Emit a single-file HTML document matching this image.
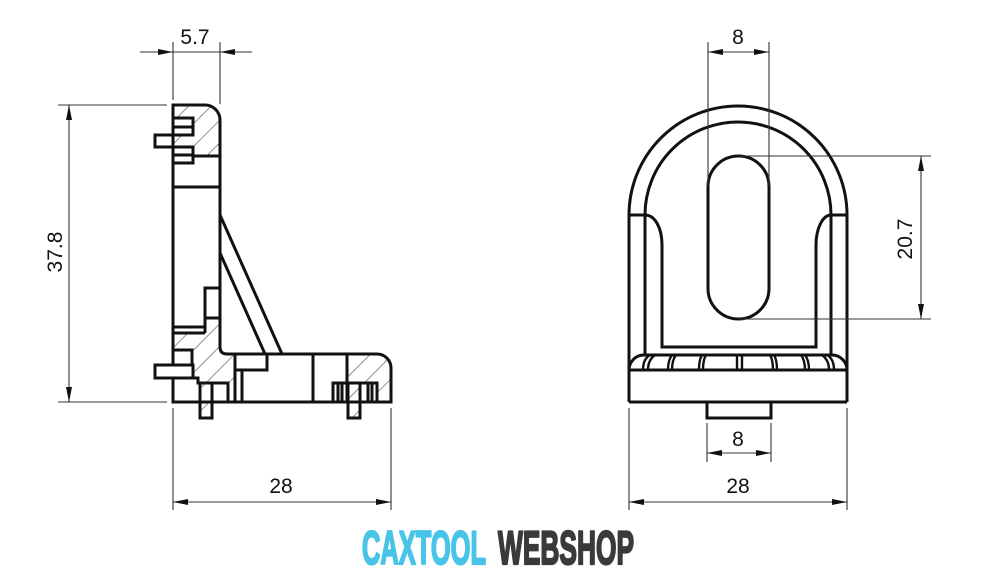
<!DOCTYPE html>
<html><head><meta charset="utf-8"><style>
html,body{margin:0;padding:0;background:#fff;}
svg{display:block;}
</style></head><body>
<svg width="1000" height="575" viewBox="0 0 1000 575" xmlns="http://www.w3.org/2000/svg">
<defs>
<pattern id="h" patternUnits="userSpaceOnUse" width="16" height="16" patternTransform="rotate(45)">
<line x1="0" y1="0" x2="0" y2="16" stroke="#555" stroke-width="1.3"/>
</pattern>
</defs>
<rect width="1000" height="575" fill="#fff"/>

<!-- ============ LEFT VIEW ============ -->
<g fill="url(#h)" stroke="none">
<path d="M173,105 H205 A15,15 0 0 1 220,120 V156 H173 Z"/>
<path d="M205,318 H220 V347 Q220,354 227,354 H235 V402 H228 V383 H212 V418 H200 V383 H198 V378 H193 V365 H192 V350 H173 V333 H205 Z"/>
<path d="M347,354 H377 A14,14 0 0 1 391,368 V402 H377 V383 H360 V418 H348 V383 H347 Z"/>
</g>
<g fill="none" stroke="#111" stroke-width="3" stroke-linejoin="miter">
<path d="M173,105 H205 A15,15 0 0 1 220,120 V347 Q220,354 227,354 H377 A14,14 0 0 1 391,368 V402 H173 Z"/>
<line x1="173" y1="156" x2="220" y2="156"/>
<line x1="173" y1="187" x2="220" y2="187"/>
<rect x="173" y="118" width="20" height="17" fill="#fff"/>
<line x1="173" y1="127" x2="193" y2="127"/>
<rect x="155" y="135" width="18" height="12" fill="#fff"/>
<rect x="173" y="147" width="20" height="16" fill="#fff"/>
<line x1="173" y1="155" x2="193" y2="155"/>
<line x1="220" y1="215" x2="282" y2="354"/>
<line x1="220" y1="253" x2="265" y2="354"/>
<polyline points="220,288 205,288 205,333"/>
<line x1="205" y1="318" x2="220" y2="318"/>
<line x1="173" y1="327" x2="205" y2="327"/>
<line x1="173" y1="333" x2="205" y2="333"/>
<polyline points="173,350 192,350 192,365"/>
<rect x="155" y="365" width="38" height="13" fill="#fff"/>
<polyline points="193,378 198,378 198,383 200,383"/>
<rect x="200" y="383" width="12" height="35"/>
<rect x="212" y="383" width="16" height="19"/>
<line x1="235" y1="354" x2="235" y2="402"/>
<line x1="242" y1="370" x2="242" y2="402"/>
<rect x="235" y="354" width="32" height="16"/>
<line x1="313" y1="354" x2="313" y2="402"/>
<line x1="347" y1="354" x2="347" y2="402"/>
<polyline points="333,402 333,383 347,383"/>
<line x1="338" y1="383" x2="338" y2="402"/>
<line x1="342" y1="383" x2="342" y2="402"/>
<rect x="348" y="383" width="12" height="35"/>
<polyline points="360,383 377,383 377,402"/>
<line x1="368" y1="383" x2="368" y2="402"/>
<line x1="372" y1="383" x2="372" y2="402"/>
</g>

<g stroke="#333" stroke-width="1.1" fill="none">
<line x1="173" y1="42" x2="173" y2="100"/>
<line x1="220" y1="42" x2="220" y2="104"/>
<line x1="140" y1="52" x2="252" y2="52"/>
<line x1="58" y1="105" x2="167" y2="105"/>
<line x1="58" y1="402" x2="167" y2="402"/>
<line x1="69" y1="105" x2="69" y2="402"/>
<line x1="173" y1="408" x2="173" y2="510"/>
<line x1="391" y1="408" x2="391" y2="510"/>
<line x1="173" y1="502" x2="391" y2="502"/>
</g>
<g fill="#111">
<polygon points="173,52 158,49 158,55"/>
<polygon points="220,52 235,49 235,55"/>
<polygon points="69,105 66,120 72,120"/>
<polygon points="69,402 66,387 72,387"/>
<polygon points="173,502 188,499 188,505"/>
<polygon points="391,502 376,499 376,505"/>
</g>
<g font-family="Liberation Sans, Arial, sans-serif" font-size="21" fill="#111" text-anchor="middle">
<text x="195" y="44">5.7</text>
<text x="0" y="0" transform="translate(62,252) rotate(-90)">37.8</text>
<text x="281" y="493">28</text>
</g>

<!-- ============ RIGHT VIEW ============ -->
<g fill="none" stroke="#111" stroke-width="3">
<path d="M629,402 V215 A109,109 0 0 1 847,215 V402"/>
<path d="M645,355 V215 A93,93 0 0 1 831,215 V355"/>
<line x1="629" y1="215" x2="645" y2="215"/>
<line x1="831" y1="215" x2="847" y2="215"/>
<path d="M645,215 C655,215 662,228 662,245 V347 H816 V245 C816,228 823,215 831,215"/>
<path d="M708,186.5 A30.5,30.5 0 0 1 769,186.5 V288.5 A30.5,30.5 0 0 1 708,288.5 Z"/>
<path d="M629,370 A15,15 0 0 1 644,355 H832 A15,15 0 0 1 847,370"/>
<line x1="629" y1="370" x2="847" y2="370"/>
<line x1="629" y1="402" x2="847" y2="402"/>
<rect x="707" y="402" width="64" height="16"/>
</g>
<g fill="none" stroke="#111" stroke-width="2.4">
<path d="M643,370 Q643,359 650,355 M648,370 Q648,360 655,355"/>
<path d="M668,370 Q668,360 672,355 M672,370 Q672,360 676,355"/>
<path d="M699,370 Q699,360 702,355 M703,370 Q703,360 706,355"/>
<path d="M737,355 V370 M742,355 V370"/>
<path d="M777,370 Q777,360 774,355 M773,370 Q773,360 770,355"/>
<path d="M809,370 Q809,360 805,355 M805,370 Q805,360 801,355"/>
<path d="M834,370 Q834,359 827,355 M829,370 Q829,360 822,355"/>
</g>

<g stroke="#333" stroke-width="1.1" fill="none">
<line x1="708" y1="42" x2="708" y2="186"/>
<line x1="769" y1="42" x2="769" y2="186"/>
<line x1="708" y1="52" x2="769" y2="52"/>
<line x1="740" y1="156" x2="931" y2="156"/>
<line x1="740" y1="319" x2="931" y2="319"/>
<line x1="921" y1="156" x2="921" y2="319"/>
<line x1="707" y1="423" x2="707" y2="462"/>
<line x1="771" y1="423" x2="771" y2="462"/>
<line x1="707" y1="453" x2="771" y2="453"/>
<line x1="629" y1="408" x2="629" y2="510"/>
<line x1="847" y1="408" x2="847" y2="510"/>
<line x1="629" y1="502" x2="847" y2="502"/>
</g>
<g fill="#111">
<polygon points="708,52 723,49 723,55"/>
<polygon points="769,52 754,49 754,55"/>
<polygon points="921,156 918,171 924,171"/>
<polygon points="921,319 918,304 924,304"/>
<polygon points="707,453 722,450 722,456"/>
<polygon points="771,453 756,450 756,456"/>
<polygon points="629,502 644,499 644,505"/>
<polygon points="847,502 832,499 832,505"/>
</g>
<g font-family="Liberation Sans, Arial, sans-serif" font-size="21" fill="#111" text-anchor="middle">
<text x="738" y="44">8</text>
<text x="0" y="0" transform="translate(912,239) rotate(-90)">20.7</text>
<text x="738" y="446">8</text>
<text x="738" y="493">28</text>
</g>

<!-- logo -->
<g font-family="Liberation Sans Narrow, Liberation Sans, Arial, sans-serif" font-weight="bold" font-size="47" stroke-width="2.2" stroke-linejoin="round">
<text x="362" y="564" fill="#48c4e8" stroke="#48c4e8" textLength="124" lengthAdjust="spacingAndGlyphs">CAXTOOL</text>
<text x="498" y="564" fill="#3a3a3a" stroke="#3a3a3a" textLength="136" lengthAdjust="spacingAndGlyphs">WEBSHOP</text>
</g>
</svg>
</body></html>
